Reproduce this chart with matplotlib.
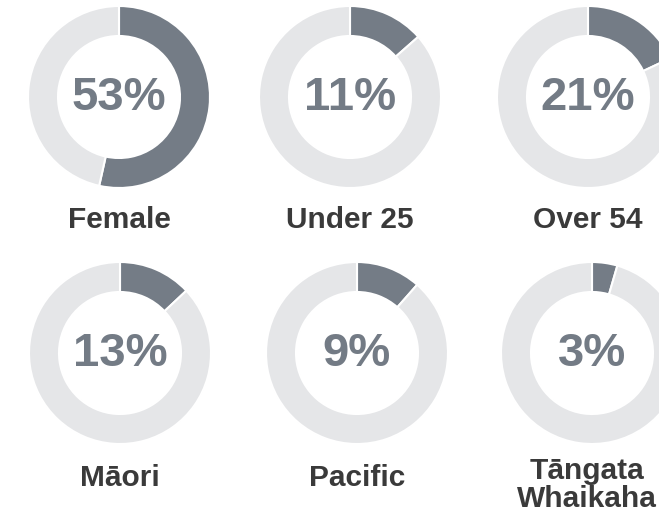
import matplotlib.pyplot as plt

# figures shown in the centre of each ring
labels = ["Female", "Under 25", "Over 54", "Māori", "Pacific", "Tāngata\nWhaikaha"]
shown_pct = [53, 11, 21, 13, 9, 3]
# share of the ring that is filled
ring_share = [53.5, 13.5, 18, 13, 11.5, 4.5]

# layout in pixels (y measured from the bottom of the figure)
W, H = 659, 518
centers = [(119, 421), (350, 421), (588, 421),
           (120, 165), (357, 165), (592, 165)]
label_pos = [(119, 298), (350, 298), (588, 298),
             (120, 40), (357, 40), (587, 33)]
RADIUS = 91
RING_W = 30

DARK = "#747c86"
LIGHT = "#e5e6e8"
TEXT_PCT = "#737b85"
TEXT_LBL = "#3a3a3a"

plt.rcParams["font.family"] = ["Liberation Sans", "DejaVu Sans"]

fig = plt.figure(figsize=(W / 100, H / 100), dpi=100)
ax = fig.add_axes([0, 0, 1, 1])

for (cx, cy), share, pct, lab, (lx, ly) in zip(centers, ring_share, shown_pct, labels, label_pos):
    ax.pie(
        [share, 100 - share],
        center=(cx, cy),
        radius=RADIUS,
        startangle=90,
        counterclock=False,
        colors=[DARK, LIGHT],
        wedgeprops=dict(width=RING_W, edgecolor="white", linewidth=1.5),
    )
    ax.text(cx, cy - 1, f"{pct}%", ha="center", va="center",
            fontsize=34, fontweight="bold", color=TEXT_PCT)
    ax.text(lx, ly, lab, ha="center", va="center", fontsize=21.5,
            fontweight="bold", color=TEXT_LBL, linespacing=1.0)

ax.set_xlim(0, W)
ax.set_ylim(0, H)
ax.set_aspect("equal")
ax.axis("off")

fig.savefig("out.png", dpi=100, facecolor="white")
